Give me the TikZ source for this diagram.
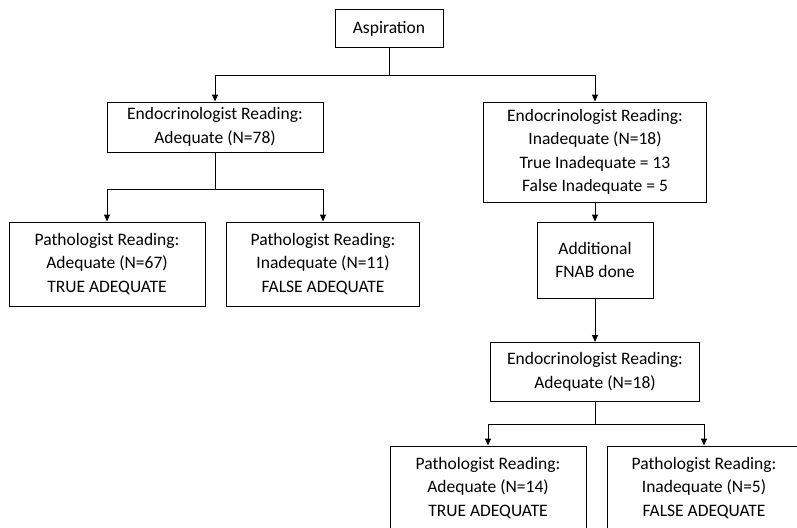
\documentclass[tikz,border=0pt]{standalone}
\usepackage{fontspec}
\setmainfont{Carlito}
\usetikzlibrary{arrows.meta, positioning}

\begin{document}
\begin{tikzpicture}[x=1pt,y=-1pt,-{Triangle[width=6pt,length=7pt]},draw=black,line width=1pt]
    \tikzstyle{box}=[draw=black,rectangle,align=center,inner sep=0pt,font=\fontsize{17.5}{23.5}\selectfont]
    \tikzstyle{path box}=[box,minimum width=196pt,minimum height=84pt]

    \useasboundingbox (0,0) rectangle (797,527);
    \clip (0,0) rectangle (797,527);

    % Top of the tree
    \node[box,minimum width=108pt,minimum height=38pt] (asp) at (389,29) {Aspiration};
    \node[box,minimum width=216pt,minimum height=50pt] (endoA) at (215,127)
        {Endocrinologist Reading:\\Adequate (N=78)};
    \node[box,minimum width=223pt,minimum height=100pt] (endoI) at (595,152)
        {Endocrinologist Reading:\\Inadequate (N=18)\\True Inadequate = 13\\False Inadequate = 5};

    % Pathologist readings of the first aspiration
    \node[path box] (pathA) at (107,264) {Pathologist Reading:\\Adequate (N=67)\\TRUE ADEQUATE};
    \node[path box,minimum width=193pt] (pathI) at (323,264) {Pathologist Reading:\\Inadequate (N=11)\\FALSE ADEQUATE};

    % Repeat aspiration
    \node[box,minimum width=116pt,minimum height=76pt] (fnab) at (595,260) {Additional\\FNAB done};
    \node[box,minimum width=209pt,minimum height=59pt] (endoB) at (595,372)
        {Endocrinologist Reading:\\Adequate (N=18)};
    \node[path box] (pathA2) at (488,488) {Pathologist Reading:\\Adequate (N=14)\\TRUE ADEQUATE};
    \node[path box,minimum width=193pt] (pathI2) at (704,488) {Pathologist Reading:\\Inadequate (N=5)\\FALSE ADEQUATE};

    % Connectors
    \foreach \dest in {endoA,endoI}
        \draw (asp.south) |- ([yshift=26pt]\dest.north) -- (\dest.north);
    \foreach \dest in {pathA,pathI}
        \draw (endoA.south) |- ([yshift=32pt]\dest.north) -- (\dest.north);
    \foreach \dest in {pathA2,pathI2}
        \draw (endoB.south) |- ([yshift=21pt]\dest.north) -- (\dest.north);
    \draw (endoI) -- (fnab);
    \draw (fnab) -- (endoB);
\end{tikzpicture}
\end{document}
